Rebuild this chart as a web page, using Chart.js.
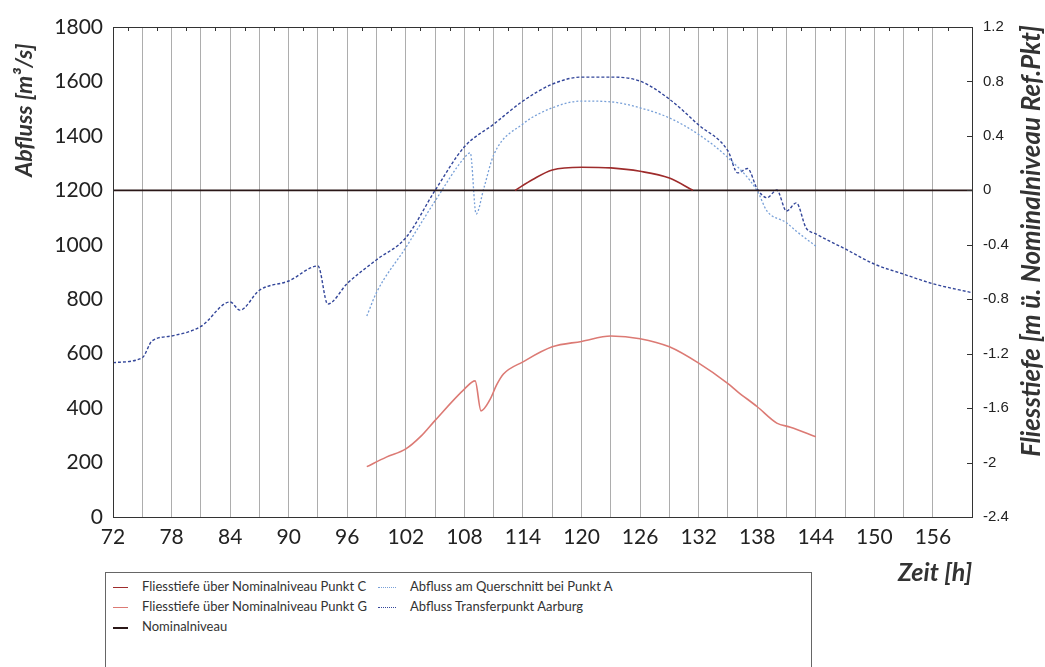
<!DOCTYPE html>
<html>
<head>
<meta charset="utf-8">
<script src="https://cdn.jsdelivr.net/npm/chart.js@4.4.1/dist/chart.umd.min.js"></script>
<style>
  body { margin: 0; background: #fff; overflow: hidden; }
  #wrap { position: relative; width: 1045px; height: 667px; }
  #legend { position: absolute; left: 105px; top: 572px; width: 705px; height: 110px;
            border: 1px solid #666; background: #fff; font-family: Lato, sans-serif; font-size: 13px; color: #333; }
  .item { position: absolute; white-space: nowrap; line-height: 16px; }
  .sample { display: inline-block; vertical-align: middle; height: 0; margin-right: 14px; }
</style>
</head>
<body>
<div id="wrap">
  <canvas id="chartjs-0" width="1045" height="667"></canvas>
  <div id="legend"></div>
</div>
<script>
/* time axis [h] */
var xMin = 72;
var xMax = 160;
var xTickLabels = [72, 78, 84, 90, 96, 102, 108, 114, 120, 126, 132, 138, 144, 150, 156];

/* Abfluss Transferpunkt Aarburg [m3/s] */
var aarburgT = [72, 75, 76, 78, 81, 84, 85, 87, 90, 93, 94, 96, 99, 102, 105, 108, 111, 114, 117, 120, 123, 126, 129, 132, 135, 136, 137, 138, 139, 140, 141, 142, 143, 144, 147, 150, 153, 156, 160];
var aarburgQ = [567, 585, 647, 665, 700, 790, 760, 833, 867, 922, 782, 858, 945, 1026, 1200, 1360, 1443, 1528, 1590, 1616, 1616, 1601, 1535, 1440, 1345, 1264, 1280, 1205, 1173, 1201, 1124, 1154, 1062, 1040, 985, 929, 892, 857, 824];

/* Abfluss am Querschnitt bei Punkt A [m3/s] */
var punktAT = [98, 99, 102, 105, 108, 108.6, 109.2, 110, 111, 114, 117, 120, 123, 126, 129, 132, 135, 138, 139, 141, 142, 144];
var punktAQ = [738, 825, 990, 1161, 1320, 1338, 1113, 1209, 1330, 1444, 1503, 1528, 1525, 1503, 1466, 1405, 1320, 1198, 1124, 1081, 1050, 995];

/* Fliesstiefe ueber Nominalniveau Punkt C [m] */
var punktCT = [113.2, 115, 117, 120, 123, 126, 129, 131.4];
var punktCH = [0, 0.08, 0.15, 0.17, 0.165, 0.14, 0.09, 0];

/* Fliesstiefe ueber Nominalniveau Punkt G [m] */
var punktGT = [98, 100, 102, 103.5, 105, 108, 109.1, 109.7, 110.6, 111.3, 112, 114, 117, 120, 123, 126, 129, 132, 135, 136, 138, 140, 141.4, 144];
var punktGH = [-2.03, -1.96, -1.9, -1.81, -1.69, -1.46, -1.4, -1.62, -1.54, -1.43, -1.35, -1.26, -1.15, -1.11, -1.07, -1.09, -1.15, -1.27, -1.42, -1.48, -1.59, -1.71, -1.74, -1.81];

/* Nominalniveau */
var nominalT = [72, 160];
var nominalH = [0, 0];

function pts(t, v) {
  return t.map(function (x, i) { return { x: x, y: v[i] }; });
}

var colC = "#9e2c2c";
var colG = "#dc7a74";
var colNom = "#2a1717";
var colA = "#78a0d8";
var colAar = "#33469a";

/* legend built as html */
var legendItems = [
  { text: "Fliesstiefe über Nominalniveau Punkt C", color: colC, style: "solid", w: 1.5, x: 7, y: 5, len: 15 },
  { text: "Fliesstiefe über Nominalniveau Punkt G", color: colG, style: "solid", w: 1.5, x: 7, y: 25, len: 15 },
  { text: "Nominalniveau", color: colNom, style: "solid", w: 2, x: 7, y: 45, len: 15 },
  { text: "Abfluss am Querschnitt bei Punkt A", color: colA, style: "dotted", w: 1.5, x: 272, y: 5, len: 18 },
  { text: "Abfluss Transferpunkt Aarburg", color: colAar, style: "dotted", w: 1.5, x: 272, y: 25, len: 18 }
];
var legend = document.getElementById("legend");
legendItems.forEach(function (it) {
  var d = document.createElement("div");
  d.className = "item";
  d.style.left = it.x + "px";
  d.style.top = it.y + "px";
  var s = document.createElement("span");
  s.className = "sample";
  s.style.width = it.len + "px";
  s.style.borderTop = it.w + "px " + it.style + " " + it.color;
  d.appendChild(s);
  d.appendChild(document.createTextNode(it.text));
  legend.appendChild(d);
});

/* frame, small ticks and axis titles */
var framePlugin = {
  id: "frame",
  afterDatasetsDraw: function (chart) {
    var ctx = chart.ctx;
    var a = chart.chartArea;
    var xs = chart.scales.x;
    var y2 = chart.scales.y2;
    ctx.save();
    ctx.strokeStyle = "#333";
    ctx.lineWidth = 1;
    ctx.strokeRect(a.left + 0.5, a.top + 0.5, a.right - a.left, a.bottom - a.top);
    ctx.beginPath();
    for (var t = 73.5; t < xMax; t += 3) {
      var px = Math.round(xs.getPixelForValue(t)) + 0.5;
      ctx.moveTo(px, a.top);
      ctx.lineTo(px, a.top + 4);
    }
    y2.ticks.forEach(function (tk) {
      var py = Math.round(y2.getPixelForValue(tk.value)) + 0.5;
      ctx.moveTo(a.right, py);
      ctx.lineTo(a.right - 5, py);
    });
    ctx.stroke();

    ctx.fillStyle = "#333";
    ctx.textAlign = "center";
    ctx.textBaseline = "middle";
    ctx.font = "italic bold 23px Lato";
    ctx.save();
    ctx.translate(a.left - 88, a.top + 83);
    ctx.rotate(-Math.PI / 2);
    ctx.fillText("Abfluss [m³/s]", 0, 0);
    ctx.restore();
    ctx.font = "italic bold 26px Lato";
    ctx.save();
    ctx.translate(a.right + 60, a.top + 214);
    ctx.rotate(-Math.PI / 2);
    ctx.fillText("Fliesstiefe [m ü. Nominalniveau Ref.Pkt]", 0, 0);
    ctx.restore();
    ctx.font = "italic bold 25px Lato";
    ctx.fillText("Zeit [h]", a.right - 37, a.bottom + 56);
    ctx.restore();
  }
};

var ctx0 = document.getElementById("chartjs-0");
var myChart = new Chart(ctx0, {
  type: "line",
  data: {
    datasets: [
      { label: "Fliesstiefe über Nominalniveau Punkt C", data: pts(punktCT, punktCH), yAxisID: "y2",
        borderColor: colC, borderWidth: 1.6, pointRadius: 0, cubicInterpolationMode: "monotone" },
      { label: "Fliesstiefe über Nominalniveau Punkt G", data: pts(punktGT, punktGH), yAxisID: "y2",
        borderColor: colG, borderWidth: 1.6, pointRadius: 0, cubicInterpolationMode: "monotone" },
      { label: "Nominalniveau", data: pts(nominalT, nominalH), yAxisID: "y2",
        borderColor: colNom, borderWidth: 1.6, pointRadius: 0 },
      { label: "Abfluss am Querschnitt bei Punkt A", data: pts(punktAT, punktAQ), yAxisID: "y",
        borderColor: colA, borderWidth: 1.3, borderDash: [2, 2], pointRadius: 0, cubicInterpolationMode: "monotone" },
      { label: "Abfluss Transferpunkt Aarburg", data: pts(aarburgT, aarburgQ), yAxisID: "y",
        borderColor: colAar, borderWidth: 1.4, borderDash: [3, 2], pointRadius: 0, cubicInterpolationMode: "monotone" }
    ]
  },
  options: {
    responsive: false,
    animation: false,
    layout: { padding: { top: 27, left: 0, right: 0, bottom: 0 } },
    plugins: { legend: { display: false }, tooltip: { enabled: false } },
    scales: {
      x: {
        type: "linear",
        min: xMin,
        max: xMax,
        afterFit: function (s) { s.height = 150; },
        border: { display: false },
        grid: { color: "#adadad", lineWidth: 1, drawTicks: false },
        ticks: {
          stepSize: 3,
          padding: 8,
          autoSkip: false,
          maxRotation: 0,
          color: "#222",
          font: { family: "Lato", size: 21 },
          callback: function (v) { return xTickLabels.indexOf(v) >= 0 ? String(v) : ""; }
        }
      },
      y: {
        position: "left",
        min: 0,
        max: 1800,
        afterFit: function (s) { s.width = 113; },
        border: { display: false },
        grid: { display: false, drawTicks: false },
        ticks: {
          stepSize: 200,
          padding: 10,
          color: "#222",
          font: { family: "Lato", size: 21 },
          callback: function (v) { return String(v); }
        }
      },
      y2: {
        position: "right",
        min: -2.4,
        max: 1.2,
        afterFit: function (s) { s.width = 73; },
        border: { display: false },
        grid: { display: false, drawTicks: false },
        ticks: {
          stepSize: 0.4,
          padding: 11,
          color: "#222",
          font: { family: "Liberation Sans", size: 15 },
          callback: function (v) { return String(Number(v.toFixed(1))); }
        }
      }
    }
  },
  plugins: [framePlugin]
});
</script>
</body>
</html>
